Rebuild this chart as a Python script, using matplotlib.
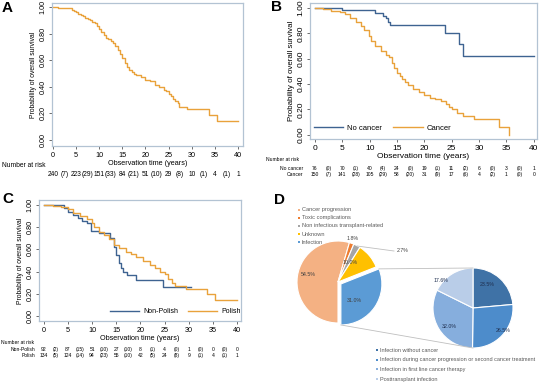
import numpy as np
import matplotlib
matplotlib.use('Agg')
import matplotlib.pyplot as plt
from matplotlib.transforms import blended_transform_factory

plt.rcParams['font.family'] = ['Liberation Sans', 'DejaVu Sans']

W, H = 540, 387

# ---- Panel A: all patients
t_all = [0, 1, 4.2, 4.6, 5, 5.5, 6, 6.5, 7, 7.5, 8, 8.5, 9, 9.5, 10, 10.5, 11, 11.5, 12, 12.5,
         13, 13.5, 14, 14.5, 15, 15.5, 16, 16.5, 17, 17.5, 18, 19, 20, 21, 22, 23, 24, 24.5,
         25, 25.5, 26, 26.5, 27, 27.3, 29, 33.8, 35.4, 40]
s_all = [1.0, 0.99, 0.98, 0.97, 0.96, 0.95, 0.94, 0.93, 0.92, 0.91, 0.905, 0.89, 0.88, 0.855,
         0.835, 0.81, 0.79, 0.77, 0.76, 0.745, 0.73, 0.71, 0.68, 0.65, 0.615, 0.58, 0.55, 0.53,
         0.515, 0.50, 0.49, 0.47, 0.45, 0.44, 0.415, 0.40, 0.377, 0.365, 0.347, 0.33, 0.31,
         0.29, 0.276, 0.25, 0.23, 0.19, 0.145, 0.145]
risk_all = ['240', '(7)', '223', '(29)', '151', '(33)', '84', '(21)', '51', '(10)', '29', '(8)',
            '10', '(1)', '4', '(1)', '1']

# ---- Panel B: no cancer vs cancer
t_nocan = [0, 5, 11, 12.5, 13, 13.3, 13.8, 23.8, 26.3, 27, 40]
s_nocan = [1.0, 0.985, 0.96, 0.94, 0.92, 0.89, 0.865, 0.80, 0.72, 0.625, 0.625]
t_can = [0, 1.5, 3, 4.5, 5.5, 6.5, 7.5, 8.5, 9, 9.8, 10.3, 11, 12, 13, 13.5, 14, 14.5, 15, 15.5,
         16, 16.5, 17, 18, 19, 20, 21, 22, 23, 24, 24.5, 25, 26, 27, 29, 33.7, 35.4]
s_can = [1.0, 0.99, 0.98, 0.97, 0.95, 0.92, 0.89, 0.86, 0.83, 0.78, 0.74, 0.70, 0.66, 0.63, 0.61,
         0.57, 0.53, 0.49, 0.465, 0.44, 0.415, 0.39, 0.36, 0.335, 0.315, 0.29, 0.28, 0.265,
         0.24, 0.22, 0.20, 0.17, 0.15, 0.125, 0.06, 0.0]
risk_nocan = ['76', '(0)', '70', '(1)', '40', '(4)', '24', '(0)', '19', '(1)', '11', '(2)', '6',
              '(0)', '3', '(0)', '1']
risk_can = ['150', '(7)', '141', '(28)', '105', '(29)', '58', '(20)', '31', '(9)', '17', '(6)', '4',
            '(2)', '1', '(0)', '0']

# ---- Panel C: non-Polish vs Polish
t_nonpl = [0, 4.2, 5, 6, 7, 8, 9, 9.8, 11.5, 13.8, 14.5, 15, 15.5, 16, 16.5, 17.3, 19, 24.7, 30.5]
s_nonpl = [1.0, 0.97, 0.94, 0.91, 0.88, 0.86, 0.84, 0.77, 0.75, 0.70, 0.62, 0.55, 0.48, 0.43,
           0.40, 0.37, 0.32, 0.26, 0.26]
t_pl = [0, 2, 3.5, 5, 6, 7.5, 9, 10, 10.5, 11.5, 12.5, 13.5, 14.5, 15.5, 17, 18, 19, 20.5, 22,
        23, 24, 25, 25.8, 26.5, 27.2, 29.5, 33.8, 35.4, 40]
s_pl = [1.0, 0.99, 0.98, 0.96, 0.93, 0.90, 0.87, 0.84, 0.80, 0.76, 0.73, 0.69, 0.64, 0.61, 0.58,
        0.56, 0.53, 0.50, 0.46, 0.43, 0.40, 0.38, 0.33, 0.30, 0.27, 0.24, 0.20, 0.145, 0.145]
risk_nonpl = ['92', '(2)', '87', '(15)', '51', '(10)', '27', '(10)', '8', '(1)', '4', '(0)', '1',
              '(0)', '0', '(0)', '0']
risk_pl = ['134', '(5)', '124', '(14)', '94', '(23)', '55', '(10)', '42', '(5)', '24', '(8)', '9',
           '(1)', '4', '(1)', '1']

# ---- Panel D: causes of death
cause_labels = ['Cancer progression', 'Toxic complications', 'Non infectious transplant-related',
                'Unknown', 'Infection']
cause_pct = [54.5, 1.8, 2.7, 10.0, 31.0]
inf_labels = ['Infection without cancer',
              'Infection during cancer progression or second cancer treatment',
              'Infection in first line cancer therapy', 'Posttransplant infection']
inf_pct = [23.5, 26.5, 32.0, 17.6]

ORANGE = '#E9A23B'
BLUE = '#3E6391'
FRAME = '#B3C3D3'
cause_colors = ['#F4B183', '#ED7D31', '#A5A5A5', '#FFC000', '#5B9BD5']
inf_colors = ['#3F72A6', '#4D8CCB', '#86AEDD', '#B9CDE8']
risk_x = np.arange(0, 41, 2.5)


def fy(px):
    return 1 - px / H


def fx(px):
    return px / W


fig = plt.figure(figsize=(W / 100, H / 100), dpi=100)

# pie axes in pixel coordinates over the whole figure
axd = fig.add_axes([0, 0, 1, 1])
axd.set_zorder(0)


def km_axes(rect_px, xlim, ylim, tick_fs, lab_fs):
    l, t, r, b = rect_px
    ax = fig.add_axes([fx(l), fy(b), fx(r - l), (b - t) / H])
    ax.set_zorder(2)
    ax.set_xlim(*xlim)
    ax.set_ylim(*ylim)
    ax.set_xticks(range(0, 41, 5))
    ax.set_yticks(np.arange(0, 1.01, 0.2))
    ax.set_yticklabels(['%.2f' % v for v in np.arange(0, 1.01, 0.2)], rotation=90, va='center')
    ax.tick_params(labelsize=tick_fs, length=2.5, width=0.6, color='#555555', pad=1.5)
    for s in ax.spines.values():
        s.set_color(FRAME)
        s.set_linewidth(0.9)
    ax.set_xlabel('Observation time (years)', fontsize=lab_fs, labelpad=1)
    ax.set_ylabel('Probability of overall survival', fontsize=lab_fs - 0.3, labelpad=2)
    return ax


def risk_row(ax, values, ypx, fs):
    # baseline alignment so that "(7)" and "223" sit on the same line
    tr = blended_transform_factory(ax.transData, fig.transFigure)
    base = ypx + fs * 0.5
    for x, v in zip(risk_x, values):
        ax.text(x, fy(base), v, transform=tr, ha='center', va='baseline', fontsize=fs)


def row_label(xpx, ypx, s, fs, ha='left'):
    fig.text(fx(xpx), fy(ypx + fs * 0.5), s, fontsize=fs, va='baseline', ha=ha)


# ---- A
axA = km_axes((52, 3, 243, 146), (-0.2, 41.1), (-0.045, 1.03), 5.2, 5.2)
axA.step(t_all, s_all, where='post', color=ORANGE, lw=1.0)
row_label(2, 165, 'Number at risk', 4.8)
risk_row(axA, risk_all, 174, 4.8)
fig.text(fx(2), fy(8), 'A', fontsize=11, fontweight='bold', va='center')

# ---- B
axB = km_axes((310, 3, 537, 139), (-0.9, 40.6), (-0.034, 1.04), 6, 6)
axB.step(t_nocan, s_nocan, where='post', color=BLUE, lw=1.0, label='No cancer')
axB.step(t_can, s_can, where='post', color=ORANGE, lw=1.0, label='Cancer')
axB.legend(loc='center', bbox_to_anchor=(0.32, 0.08), ncol=2, frameon=False, fontsize=5.5,
           handlelength=3.8, columnspacing=1.5, handletextpad=0.5)
row_label(266, 159, 'Number at risk', 3.6)
row_label(303, 168, 'No cancer', 3.6, ha='right')
row_label(303, 174.5, 'Cancer', 3.6, ha='right')
risk_row(axB, risk_nocan, 168, 3.6)
risk_row(axB, risk_can, 174.5, 3.6)
fig.text(fx(271), fy(7), 'B', fontsize=11, fontweight='bold', va='center')

# ---- C
axC = km_axes((39, 200, 241, 321), (-0.97, 40.8), (-0.045, 1.045), 5.2, 5.2)
axC.step(t_nonpl, s_nonpl, where='post', color=BLUE, lw=1.0, label='Non-Polish')
axC.step(t_pl, s_pl, where='post', color=ORANGE, lw=1.0, label='Polish')
axC.legend(loc='center', bbox_to_anchor=(0.675, 0.075), ncol=2, frameon=False, fontsize=5,
           handlelength=4.2, columnspacing=1.5, handletextpad=0.5)
row_label(1, 342, 'Number at risk', 3.6)
row_label(35, 349, 'Non-Polish', 3.6, ha='right')
row_label(35, 355, 'Polish', 3.6, ha='right')
risk_row(axC, risk_nonpl, 349, 3.6)
risk_row(axC, risk_pl, 355, 3.6)
fig.text(fx(2), fy(199), 'C', fontsize=11, fontweight='bold', va='center')

# ---- D
c1 = (338, H - 282)
r1 = 41
wedges1, _ = axd.pie(cause_pct, colors=cause_colors, startangle=270, counterclock=False,
                     radius=r1, center=c1, explode=[0, 0, 0, 0, 3.5],
                     wedgeprops=dict(edgecolor='white', linewidth=0.8), frame=True)
c2 = (473, H - 308)
r2 = 40
wedges2, _ = axd.pie(inf_pct, colors=inf_colors, startangle=90, counterclock=False,
                     radius=r2, center=c2, wedgeprops=dict(edgecolor='white', linewidth=0.8),
                     frame=True)

# connector lines between the infection slice and the breakdown pie
inf_w = wedges1[-1]
cx, cy = inf_w.center
a_top = np.radians(inf_w.theta2)
a_bot = np.radians(inf_w.theta1)
axd.plot([cx + r1 * np.cos(a_top), c2[0]], [cy + r1 * np.sin(a_top), c2[1] + r2],
         color='#BFBFBF', lw=0.6)
axd.plot([cx + r1 * np.cos(a_bot), c2[0]], [cy + r1 * np.sin(a_bot), c2[1] - r2],
         color='#BFBFBF', lw=0.6)

# slice labels
pie_fs = 3.8
tc = '#404040'
axd.text(308, H - 275, '%.1f%%' % cause_pct[0], fontsize=pie_fs, color=tc, ha='center', va='center')
axd.text(353, H - 239, '%.1f%%' % cause_pct[1], fontsize=pie_fs, color=tc, ha='center', va='center')
axd.plot([357, 394], [H - 246, H - 251], color='#BFBFBF', lw=0.6)
axd.text(403, H - 251, '%.1f%%' % cause_pct[2], fontsize=pie_fs, color=tc, ha='center', va='center')
axd.text(350, H - 263, '%.1f%%' % cause_pct[3], fontsize=pie_fs, color=tc, ha='center', va='center')
axd.text(354, H - 301, '%.1f%%' % cause_pct[4], fontsize=pie_fs, color=tc, ha='center', va='center')
axd.text(487, H - 285, '%.1f%%' % inf_pct[0], fontsize=pie_fs, color='#1F2F4F', ha='center', va='center')
axd.text(503, H - 330, '%.1f%%' % inf_pct[1], fontsize=pie_fs, color='#1F2F4F', ha='center', va='center')
axd.text(449, H - 326, '%.1f%%' % inf_pct[2], fontsize=pie_fs, color='#1F2F4F', ha='center', va='center')
axd.text(441, H - 281, '%.1f%%' % inf_pct[3], fontsize=pie_fs, color='#1F2F4F', ha='center', va='center')

# legends
for i, (lab, col) in enumerate(zip(cause_labels, cause_colors)):
    y = H - (210 + 8 * i)
    axd.scatter([298.5], [y], marker='s', s=2.5, color=col, linewidths=0)
    axd.text(302, y, lab, fontsize=4.1, color='#595959', va='center')
for i, (lab, col) in enumerate(zip(inf_labels, inf_colors)):
    y = H - (350 + 9.7 * i)
    axd.scatter([376.5], [y], marker='s', s=2.5, color=col, linewidths=0)
    axd.text(380, y, lab, fontsize=3.95, color='#595959', va='center')

axd.text(274, H - 200, 'D', fontsize=11, fontweight='bold', va='center')
axd.set_xlim(0, W)
axd.set_ylim(0, H)
axd.set_aspect('auto')
axd.axis('off')

fig.savefig('out.png', dpi=100)
